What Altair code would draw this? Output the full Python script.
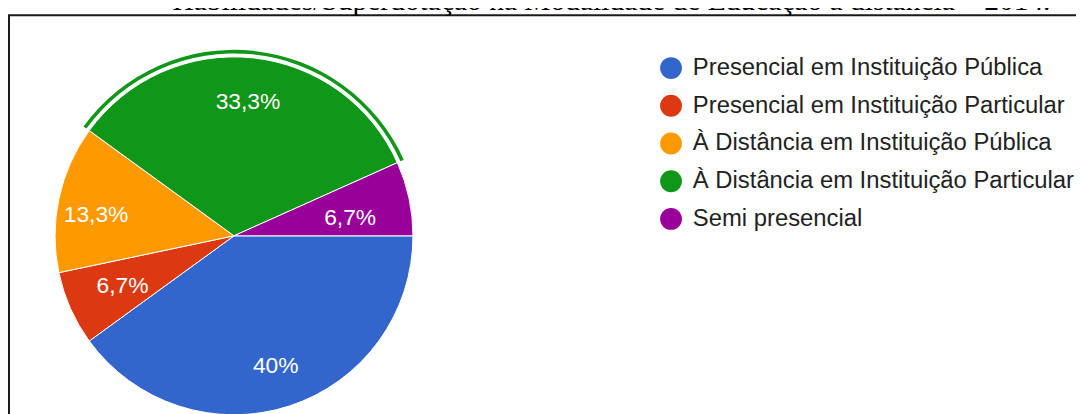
import math
import altair as alt
import pandas as pd

# ---- data ----
categories = [
    "Presencial em Instituição Pública",
    "Presencial em Instituição Particular",
    "À Distância em Instituição Pública",
    "À Distância em Instituição Particular",
    "Semi presencial",
]
percent = [40.0, 6.7, 13.3, 33.3, 6.7]
labels = ["40%", "6,7%", "13,3%", "33,3%", "6,7%"]
colors = ["#3366CC", "#DC3912", "#FF9900", "#109618", "#990099"]
selected = "À Distância em Instituição Particular"
title_text = "Habilidades/Superdotação na Modalidade de Educação a distância – 2014."

df = pd.DataFrame({
    "cat": categories,
    "pct": percent,
    "label": labels,
    "idx": list(range(len(categories))),
})

CX, CY = 227.7, 228
R = 180.3
FONT = "Liberation Sans"

theta_scale = alt.Scale(domain=[0, 100], range=[math.pi / 2, math.pi / 2 + 2 * math.pi])
theta = alt.Theta("pct:Q", stack=True, scale=theta_scale)
order = alt.Order("idx:Q")
color = alt.Color(
    "cat:N",
    scale=alt.Scale(domain=categories, range=colors),
    legend=alt.Legend(
        orient="none", legendX=656, legendY=47, title=None,
        symbolType="circle", symbolSize=484, symbolStrokeWidth=0,
        labelFontSize=24, labelFont=FONT, labelColor="#222222",
        labelOffset=10, rowPadding=14, labelLimit=0, padding=0,
    ),
)

base = alt.Chart(df)

pie = base.mark_arc(outerRadius=R, stroke="white", strokeWidth=1).encode(
    theta=theta, order=order, color=color,
    x=alt.value(CX), y=alt.value(CY),
)

ring = base.mark_arc(innerRadius=183.8, outerRadius=187.4, fill="#109618").encode(
    theta=theta, order=order,
    opacity=alt.condition(alt.datum.cat == selected, alt.value(1), alt.value(0)),
    x=alt.value(CX), y=alt.value(CY),
)

# label nudges (style offsets, like the chart library's fit-inside-slice placement)
nudges = {0: (0, 2), 1: (12, -5), 2: (-6, 8), 3: (0, 1), 4: (-16, 11)}
text_layers = []
for i, (ddx, ddy) in nudges.items():
    text_layers.append(
        base.transform_window(
            cum="sum(pct)", sort=[alt.SortField("idx")],
            frame=[None, 0],
        ).transform_calculate(
            mid="datum.cum - datum.pct / 2"
        ).transform_filter(alt.datum.idx == i)
        .mark_text(radius=136, fontSize=23, font=FONT, color="white",
                   align="center", baseline="middle", dx=ddx, dy=ddy)
        .encode(theta=alt.Theta("mid:Q", scale=theta_scale), text="label:N",
                x=alt.value(CX), y=alt.value(CY))
    )

deco = alt.Chart(pd.DataFrame({"t": [title_text]}))
border = deco.mark_rect(fillOpacity=0, stroke="#1a1a1a", strokeWidth=2).encode(
    x=alt.value(1), y=alt.value(5.7), x2=alt.value(1300), y2=alt.value(700),
)
title = deco.mark_text(font="Liberation Serif", fontSize=29.7, color="black",
                       align="center", baseline="alphabetic").encode(
    text="t:N", x=alt.value(608), y=alt.value(0),
)

chart = alt.layer(border, title, pie, ring, *text_layers).properties(
    width=1076, height=406,
    autosize=alt.AutoSizeParams(type="none"),
    padding=0,
    background="white",
).configure_view(strokeWidth=0)

chart.save("out.html", embed_options={"renderer": "svg", "actions": False})
